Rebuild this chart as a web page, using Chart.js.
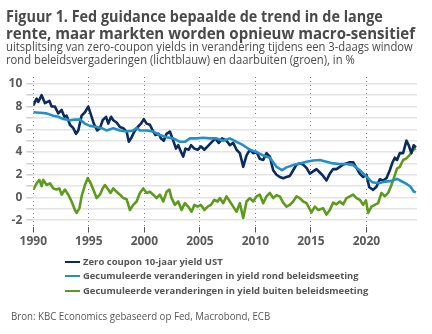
<!DOCTYPE html>
<html>
<head>
<meta charset="utf-8">
<script src="https://cdn.jsdelivr.net/npm/chart.js@4/dist/chart.umd.min.js"></script>
<style>
  html, body { margin:0; padding:0; background:#fff; }
  body { width:432px; height:334px; position:relative; overflow:hidden; }
  canvas { position:absolute; left:0; top:0; }
  .t { position:absolute; white-space:nowrap; transform-origin:0 50%; }
  .title { font-family:"Open Sans", sans-serif; font-weight:700; font-size:16px; line-height:16.5px; color:#4a4a4a; left:6px; }
  .sub { font-family:"Open Sans", sans-serif; font-weight:400; font-size:12.5px; line-height:13px; color:#4a4a4a; left:6px; }
  .leg { font-family:"Open Sans", sans-serif; font-weight:700; font-size:9.5px; line-height:12px; color:#555; left:83px; }
  .sw { position:absolute; left:65px; width:15px; height:2.5px; }
  .src { font-family:"Open Sans", sans-serif; font-weight:400; font-size:11px; line-height:13px; color:#555; left:11px; }
</style>
</head>
<body>
<canvas id="c" width="432" height="334"></canvas>
<div class="t title" id="t1" style="top:8px">Figuur 1. Fed guidance bepaalde de trend in de lange</div>
<div class="t title" id="t2" style="top:24.5px">rente, maar markten worden opnieuw macro-sensitief</div>
<div class="t sub" id="s1" style="top:39.5px">uitsplitsing van zero-coupon yields in verandering tijdens een 3-daags window</div>
<div class="t sub" id="s2" style="top:52.5px">rond beleidsvergaderingen (lichtblauw) en daarbuiten (groen), in %</div>
<div class="sw" style="top:260.5px;background:#0b2b5c"></div>
<div class="t leg" id="l1" style="top:255.7px">Zero coupon 10-jaar yield UST</div>
<div class="sw" style="top:274.8px;background:#2390c7"></div>
<div class="t leg" id="l2" style="top:270px">Gecumuleerde veranderingen in yield rond beleidsmeeting</div>
<div class="sw" style="top:289.8px;background:#5e9b1d"></div>
<div class="t leg" id="l3" style="top:285px">Gecumuleerde veranderingen in yield buiten beleidsmeeting</div>
<div class="t src" id="src" style="top:308.5px">Bron: KBC Economics gebaseerd op Fed, Macrobond, ECB</div>
<script>
// ---- DATA ----
const seriesLabels = [
  "Zero coupon 10-jaar yield UST",
  "Gecumuleerde veranderingen in yield rond beleidsmeeting",
  "Gecumuleerde veranderingen in yield buiten beleidsmeeting"
];

const ustYears = [1990.0,1990.3,1990.45,1990.75,1991.05,1991.45,1991.65,1991.95,1992.25,1992.55,1992.8,1993.0,1993.3,1993.6,1993.85,1994.05,1994.35,1994.65,1994.95,1995.15,1995.45,1995.75,1996.0,1996.25,1996.55,1996.75,1997.0,1997.2,1997.5,1997.8,1998.1,1998.4,1998.6,1998.8,1999.1,1999.4,1999.7,1999.95,2000.2,2000.5,2000.8,2001.0,2001.3,2001.5,2001.75,2002.0,2002.3,2002.6,2002.85,2003.05,2003.35,2003.5,2003.7,2004.0,2004.2,2004.5,2004.8,2005.1,2005.4,2005.7,2006.0,2006.4,2006.7,2007.0,2007.4,2007.7,2008.0,2008.3,2008.6,2008.9,2009.2,2009.5,2009.8,2010.1,2010.4,2010.7,2011.0,2011.3,2011.6,2011.9,2012.2,2012.5,2012.8,2013.1,2013.4,2013.7,2014.0,2014.3,2014.6,2014.9,2015.2,2015.5,2015.8,2016.1,2016.4,2016.7,2017.0,2017.3,2017.6,2017.9,2018.2,2018.5,2018.8,2019.1,2019.4,2019.7,2020.0,2020.25,2020.6,2020.9,2021.2,2021.5,2021.8,2022.1,2022.35,2022.55,2022.75,2023.0,2023.3,2023.6,2023.8,2024.05,2024.25,2024.45];
const ustValues = [8.1,8.7,8.4,9.0,8.3,8.5,8.0,8.0,7.4,7.7,7.1,7.2,6.4,6.1,5.6,5.9,7.2,7.5,8.0,7.4,6.5,5.9,6.1,6.8,7.1,6.5,7.1,6.8,6.6,6.2,6.1,5.8,4.9,5.2,5.8,6.2,6.5,6.9,6.5,6.4,5.8,5.5,5.6,5.2,5.0,5.6,5.8,5.0,4.3,4.6,3.9,3.6,4.3,4.2,4.6,4.3,4.2,4.5,4.2,4.5,4.8,5.2,4.8,5.2,5.0,4.6,4.8,4.2,3.9,2.7,3.7,4.2,3.9,4.0,3.4,3.3,3.9,3.6,2.4,2.0,1.8,1.7,1.8,1.9,2.4,2.9,3.0,2.9,2.6,2.1,2.3,2.5,2.2,1.9,1.5,2.1,2.5,2.5,2.7,2.9,3.0,3.1,3.1,2.6,2.1,1.8,2.0,0.9,0.67,0.95,1.6,1.5,1.7,2.4,3.1,3.5,3.3,3.9,3.9,5.0,4.6,3.9,4.6,4.4];

const roundYears = [1990.0,1990.6,1991.2,1991.8,1992.25,1992.7,1993.3,1993.75,1994.2,1994.65,1995.1,1995.7,1996.15,1996.6,1997.2,1997.8,1998.4,1999.0,1999.3,1999.6,2000.2,2000.8,2001.4,2002.0,2002.6,2003.2,2003.65,2004.1,2004.7,2005.3,2005.9,2006.5,2007.1,2007.7,2008.3,2008.9,2009.5,2010.1,2010.7,2011.3,2011.9,2012.4,2012.8,2013.4,2014.0,2014.6,2015.2,2015.8,2016.4,2017.0,2017.6,2018.2,2018.8,2019.4,2019.9,2020.5,2021.1,2021.7,2022.3,2022.75,2023.2,2023.65,2023.95,2024.25,2024.45];
const roundValues = [7.5,7.45,7.4,7.2,7.1,6.9,6.8,6.85,6.85,6.5,6.3,6.2,6.1,5.9,6.1,5.9,5.8,5.9,6.1,5.9,5.9,5.8,5.5,5.3,5.2,4.9,4.9,5.2,5.2,5.25,5.2,5.2,5.0,5.2,4.9,4.6,4.2,4.0,3.7,3.5,2.7,2.4,2.65,2.85,3.0,3.15,3.25,3.3,3.15,3.0,2.95,2.95,2.85,2.4,1.95,1.35,1.26,1.4,1.46,1.64,1.41,1.17,0.97,0.53,0.45];

const outsideYears = [1990.0,1990.3,1990.55,1990.75,1990.9,1991.2,1991.5,1991.8,1992.1,1992.35,1992.55,1992.85,1993.15,1993.45,1993.75,1993.9,1994.15,1994.35,1994.65,1994.9,1995.1,1995.4,1995.7,1996.0,1996.25,1996.45,1996.75,1996.95,1997.2,1997.5,1997.8,1998.1,1998.4,1998.7,1999.0,1999.3,1999.6,1999.9,2000.2,2000.5,2000.8,2001.1,2001.4,2001.7,2002.0,2002.25,2002.45,2002.75,2003.05,2003.35,2003.65,2003.95,2004.25,2004.5,2004.8,2005.1,2005.4,2005.7,2006.0,2006.3,2006.6,2006.8,2007.1,2007.4,2007.7,2008.0,2008.3,2008.6,2008.9,2009.2,2009.5,2009.8,2010.1,2010.4,2010.7,2011.0,2011.3,2011.6,2011.9,2012.2,2012.5,2012.8,2013.1,2013.4,2013.7,2014.0,2014.3,2014.6,2015.05,2015.35,2015.65,2016.1,2016.4,2016.7,2017.0,2017.3,2017.6,2017.9,2018.2,2018.5,2018.8,2019.1,2019.4,2019.7,2019.95,2020.15,2020.45,2020.75,2021.05,2021.35,2021.65,2021.95,2022.25,2022.55,2022.75,2023.0,2023.3,2023.6,2023.9,2024.2,2024.45];
const outsideValues = [0.7,1.25,1.55,1.0,1.55,1.1,1.25,0.8,0.7,0.8,0.25,0.7,0.25,-0.35,-1.1,-1.35,-0.95,0.1,1.1,1.7,1.4,0.7,-0.05,0.25,0.8,1.1,0.7,0.4,0.8,0.5,0.25,-0.05,-0.15,-1.1,-0.65,-0.35,0.4,0.8,0.4,0.5,0.25,-0.05,0.25,-0.35,0.5,0.7,-0.05,-0.65,-0.35,-1.1,-0.5,-0.8,-1.25,-0.65,-0.8,-0.65,-1.1,-0.8,-0.65,-0.2,-0.35,-0.05,-0.5,0.1,-0.35,-0.8,-1.25,-0.5,-1.8,-0.35,-0.05,-0.35,0.1,0.25,-0.5,0.1,0.4,-0.05,0.2,0.1,-0.45,-0.8,-0.65,-0.35,0.1,-0.05,-0.35,-0.5,-1.3,-0.8,-1.1,-0.95,-1.5,-1.1,-0.45,-0.6,-0.35,-0.6,-0.05,0.1,0.25,-0.05,-0.2,-0.65,-0.25,-1.35,-0.8,-0.65,-0.5,0.4,0.1,0.4,1.1,1.95,2.55,2.7,3.3,3.45,3.75,4.2,4.3];

const xTickYears = [1990,1995,2000,2005,2010,2015,2020];
const yTickValues = [-2,-1,0,1,2,3,4,5,6,7,8,9,10];

// ---- helpers ----
function pairs(xs, ys, name) {
  if (xs.length !== ys.length) throw new Error(name + " length mismatch: " + xs.length + " vs " + ys.length);
  return xs.map((x, i) => ({ x: x, y: ys[i] }));
}

const colors = ['#0b2b5c', '#2390c7', '#5e9b1d'];

new Chart(document.getElementById('c'), {
  type: 'line',
  data: {
    datasets: [
      { label: seriesLabels[0], data: pairs(ustYears, ustValues, 'ust'), borderColor: colors[0], order: 2 },
      { label: seriesLabels[1], data: pairs(roundYears, roundValues, 'round'), borderColor: colors[1], order: 1 },
      { label: seriesLabels[2], data: pairs(outsideYears, outsideValues, 'outside'), borderColor: colors[2], order: 3 }
    ]
  },
  options: {
    responsive: false,
    animation: false,
    datasets: { line: { borderWidth: 2.6, pointRadius: 0, tension: 0, borderJoinStyle: 'round', fill: false } },
    layout: { padding: { left: 0, right: 15, top: 77, bottom: 77.5 } },
    plugins: { legend: { display: false }, tooltip: { enabled: false } },
    scales: {
      x: {
        type: 'linear', min: 1990, max: 2024.55,
        afterBuildTicks: s => { s.ticks = xTickYears.map(v => ({ value: v })); },
        afterFit: s => { s.height = 30; },
        grid: { color: '#7d7d7d', lineWidth: 1, tickColor: '#555', tickLength: 6 },
        border: { display: false, dash: [1, 3] },
        ticks: { font: { family: 'Open Sans', weight: 'bold', size: 12 }, color: '#5a5a5a', padding: 2, maxRotation: 0, autoSkip: false, callback: v => String(v) }
      },
      y: {
        min: -2.55, max: 10.6,
        afterBuildTicks: s => { s.ticks = yTickValues.map(v => ({ value: v })); },
        afterFit: s => { s.width = 33.3; },
        grid: { color: '#e4e4e4', lineWidth: 1.5, tickColor: '#cfcfcf', tickLength: 7 },
        border: { display: false },
        ticks: { font: { family: 'Open Sans', weight: 'bold', size: 12 }, color: '#5a5a5a', padding: 4, autoSkip: false, callback: v => (v % 2 === 0 ? String(v) : '') }
      }
    }
  }
});

// fit text lines horizontally to the reference widths
function fit(id, w) {
  const el = document.getElementById(id);
  const k = w / el.scrollWidth;
  el.style.transform = 'scaleX(' + k + ')';
  return k;
}
function fitAll() {
  fit('t1', 377); fit('t2', 409);
  const k = fit('s1', 407);
  document.getElementById('s2').style.transform = 'scaleX(' + k + ')';
  fit('l1', 140); fit('l2', 276); fit('l3', 285);
  fit('src', 259);
}
fitAll();
if (document.fonts && document.fonts.ready) document.fonts.ready.then(fitAll);
</script>
</body>
</html>
